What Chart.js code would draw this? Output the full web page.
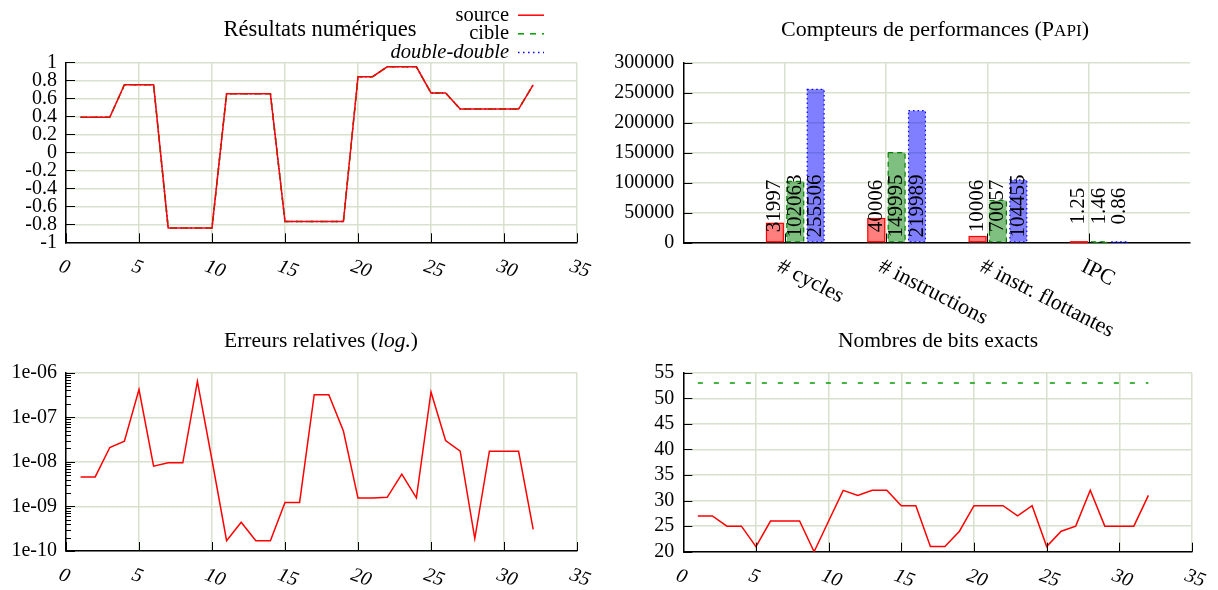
<!DOCTYPE html>
<html lang="fr">
<head>
<meta charset="utf-8">
<title>Évaluation de la compilation double-double</title>
<script src="https://cdn.jsdelivr.net/npm/chart.js@4.4.1/dist/chart.umd.min.js"></script>
<style>
html, body { margin: 0; padding: 0; background: #fff; }
#page { position: relative; width: 1218px; height: 590px; overflow: hidden; background: #fff; }
#page canvas { position: absolute; left: 0; top: 0; }
</style>
</head>
<body>
<div id="page">
  <canvas id="num" width="1218" height="590"></canvas>
  <canvas id="papi" width="1218" height="590"></canvas>
  <canvas id="err" width="1218" height="590"></canvas>
  <canvas id="bits" width="1218" height="590"></canvas>
</div>
<script>
// ---------- data ----------
const runs = [1, 2, 3, 4, 5, 6, 7, 8, 9, 10, 11, 12, 13, 14, 15, 16,
              17, 18, 19, 20, 21, 22, 23, 24, 25, 26, 27, 28, 29, 30, 31, 32];

// numerical results of each version (they coincide at this scale)
const resSource = [0.39, 0.39, 0.39, 0.75, 0.75, 0.75, -0.84, -0.84, -0.84, -0.84, 0.65, 0.65, 0.65, 0.65, -0.77, -0.77,
                   -0.77, -0.77, -0.77, 0.84, 0.84, 0.95, 0.95, 0.95, 0.66, 0.66, 0.48, 0.48, 0.48, 0.48, 0.48, 0.75];
const resCible  = [0.39, 0.39, 0.39, 0.75, 0.75, 0.75, -0.84, -0.84, -0.84, -0.84, 0.65, 0.65, 0.65, 0.65, -0.77, -0.77,
                   -0.77, -0.77, -0.77, 0.84, 0.84, 0.95, 0.95, 0.95, 0.66, 0.66, 0.48, 0.48, 0.48, 0.48, 0.48, 0.75];
const resDD     = [0.39, 0.39, 0.39, 0.75, 0.75, 0.75, -0.84, -0.84, -0.84, -0.84, 0.65, 0.65, 0.65, 0.65, -0.77, -0.77,
                   -0.77, -0.77, -0.77, 0.84, 0.84, 0.95, 0.95, 0.95, 0.66, 0.66, 0.48, 0.48, 0.48, 0.48, 0.48, 0.75];

// relative error of the source version
const relErr = [4.6e-9, 4.6e-9, 2.1e-8, 2.9e-8, 4.2e-7, 8.0e-9, 9.5e-9, 9.5e-9, 6.4e-7, 1.1e-8, 1.7e-10, 4.4e-10,
                1.7e-10, 1.7e-10, 1.23e-9, 1.23e-9, 3.2e-7, 3.2e-7, 4.9e-8, 1.54e-9, 1.54e-9, 1.6e-9, 5.3e-9, 1.55e-9,
                3.7e-7, 3.0e-8, 1.73e-8, 1.9e-10, 1.73e-8, 1.73e-8, 1.73e-8, 3.05e-10];

// exact bits: source version, and the double precision target
const bitsSource = [27, 27, 25, 25, 21, 26, 26, 26, 20, 26, 32, 31, 32, 32, 29, 29,
                    21, 21, 24, 29, 29, 29, 27, 29, 21, 24, 25, 32, 25, 25, 25, 31];
const bitsCible  = [53, 53, 53, 53, 53, 53, 53, 53, 53, 53, 53, 53, 53, 53, 53, 53,
                    53, 53, 53, 53, 53, 53, 53, 53, 53, 53, 53, 53, 53, 53, 53, 53];

// PAPI counters
const counters   = ['# cycles', '# instructions', '# instr. flottantes', 'IPC'];
const papiSource = [31997, 40006, 10006, 1.25];
const papiCible  = [102063, 149995, 70057, 1.46];
const papiDD     = [255506, 219989, 104455, 0.86];

// axis ticks
const runTicks       = [0, 5, 10, 15, 20, 25, 30, 35];
const runTickLabels  = ['0', '5', '10', '15', '20', '25', '30', '35'];
const resTicks       = [-1, -0.8, -0.6, -0.4, -0.2, 0, 0.2, 0.4, 0.6, 0.8, 1];
const resTickLabels  = ['-1', '-0.8', '-0.6', '-0.4', '-0.2', '0', '0.2', '0.4', '0.6', '0.8', '1'];
const papiTicks      = [0, 50000, 100000, 150000, 200000, 250000, 300000];
const papiTickLabels = ['0', '50000', '100000', '150000', '200000', '250000', '300000'];
const counterTicks   = [1, 2, 3, 4];
const errTicks       = [1e-10, 1e-9, 1e-8, 1e-7, 1e-6];
const errTickLabels  = ['1e-10', '1e-09', '1e-08', '1e-07', '1e-06'];
const bitsTicks      = [20, 25, 30, 35, 40, 45, 50, 55];
const bitsTickLabels = ['20', '25', '30', '35', '40', '45', '50', '55'];

// ---------- look ----------
const SERIF = '"Liberation Serif", "DejaVu Serif", serif';
const GRID = '#d8e1cd';
const font = (size, style) => `${style || ''} ${size}px ${SERIF}`;
const W = 1218, H = 590;
const TICK = 20, TITLE = 21.5, LABEL = 21;

Chart.defaults.font.family = SERIF;
Chart.defaults.font.size = TICK;
Chart.defaults.color = '#000';

function pts(ys) { return runs.map((x, i) => ({ x, y: ys[i] })); }

function drawRuns(ctx, parts, cx, baseline) {
  let total = 0;
  parts.forEach(p => { ctx.font = p.font; p.w = ctx.measureText(p.text).width; total += p.w; });
  let x = cx - total / 2;
  ctx.textAlign = 'left';
  ctx.textBaseline = 'alphabetic';
  parts.forEach(p => { ctx.font = p.font; ctx.fillText(p.text, x, baseline); x += p.w; });
}

// inward tick marks, slanted x labels and title, gnuplot style
function frame(cfg) {
  return {
    id: 'frame',
    afterDraw(chart) {
      const ctx = chart.ctx, a = chart.chartArea;
      const xs = chart.scales.x, ys = chart.scales.y;
      ctx.save();
      ctx.strokeStyle = '#000';
      ctx.lineWidth = 1;
      ctx.beginPath();
      xs.ticks.forEach(t => {
        const px = Math.round(xs.getPixelForValue(t.value)) + 0.5;
        ctx.moveTo(px, a.bottom); ctx.lineTo(px, a.bottom - 9);
      });
      ys.ticks.forEach(t => {
        const py = Math.round(ys.getPixelForValue(t.value)) + 0.5;
        ctx.moveTo(a.left, py); ctx.lineTo(a.left + 9, py);
      });
      (cfg.minor || []).forEach(v => {
        const py = Math.round(ys.getPixelForValue(v)) + 0.5;
        ctx.moveTo(a.left, py); ctx.lineTo(a.left + 5, py);
      });
      ctx.stroke();

      ctx.fillStyle = '#000';
      ctx.font = cfg.labelFont;
      ctx.textAlign = 'left';
      ctx.textBaseline = 'top';
      xs.ticks.forEach((t, i) => {
        const px = xs.getPixelForValue(t.value);
        ctx.save();
        ctx.translate(px + cfg.dx, a.bottom + cfg.dy);
        ctx.rotate(cfg.angle * Math.PI / 180);
        ctx.fillText(cfg.labels[i], 0, 0);
        ctx.restore();
      });

      drawRuns(ctx, cfg.title, cfg.titleX, cfg.titleY);
      if (cfg.legend) cfg.legend(ctx);
      ctx.restore();
    }
  };
}

function axes(o) {
  return {
    x: {
      type: 'linear', min: o.xMin, max: o.xMax, offset: false,
      afterBuildTicks: s => { s.ticks = o.xTicks.map(v => ({ value: v })); },
      ticks: { display: false },
      grid: { color: GRID, lineWidth: 1.5, drawTicks: false, offset: false },
      border: { color: '#000', width: 1.5 },
      afterFit: s => { s.height = 0; }
    },
    y: {
      type: o.yType || 'linear', min: o.yMin, max: o.yMax,
      afterBuildTicks: s => { s.ticks = o.yTicks.map(v => ({ value: v })); },
      ticks: { color: '#000', font: { family: SERIF, size: TICK }, padding: 9, autoSkip: false,
               callback: (v, i) => o.yLabels[i] },
      grid: { color: GRID, lineWidth: 1.5, drawTicks: false },
      border: { color: '#000', width: 1.5 },
      afterFit: s => { s.width = o.yWidth; }
    }
  };
}

const baseOptions = (padding, scales) => ({
  responsive: false,
  animation: false,
  events: [],
  layout: { padding },
  plugins: { legend: { display: false }, tooltip: { enabled: false } },
  scales
});

// ---------- Résultats numériques ----------
const legendNum = ctx => {
  const items = [
    { text: 'source', style: '', color: '#ff0000', dash: [], y: 20.7 },
    { text: 'cible', style: '', color: '#00a000', dash: [6, 6], y: 39.3 },
    { text: 'double-double', style: 'italic', color: '#0000ff', dash: [1.5, 3.5], y: 58 }
  ];
  items.forEach(it => {
    ctx.font = font(LABEL - 0.5, it.style);
    ctx.textAlign = 'right';
    ctx.textBaseline = 'alphabetic';
    ctx.fillStyle = '#000';
    ctx.fillText(it.text, 509, it.y);
    ctx.save();
    ctx.strokeStyle = it.color;
    ctx.lineWidth = 1.5;
    ctx.setLineDash(it.dash);
    ctx.beginPath();
    ctx.moveTo(518, it.y - 5.5);
    ctx.lineTo(544, it.y - 5.5);
    ctx.stroke();
    ctx.restore();
  });
};

new Chart(document.getElementById('num'), {
  type: 'line',
  data: {
    datasets: [
      { label: 'source', data: pts(resSource), borderColor: '#ff0000', borderWidth: 1.5, pointRadius: 0, tension: 0 },
      { label: 'cible', data: pts(resCible), borderColor: '#00a000', borderWidth: 1.5, borderDash: [6, 6], pointRadius: 0, tension: 0 },
      { label: 'double-double', data: pts(resDD), borderColor: '#0000ff', borderWidth: 1.5, borderDash: [1.5, 3.5], pointRadius: 0, tension: 0 }
    ]
  },
  options: baseOptions({ left: 0, top: 62.3, right: W - 577, bottom: H - 242.3 },
    axes({ xMin: 0, xMax: 35, xTicks: runTicks, yMin: -1, yMax: 1, yTicks: resTicks, yLabels: resTickLabels, yWidth: 66 })),
  plugins: [frame({
    labels: runTickLabels, labelFont: font(TICK, 'italic'), angle: 20, dx: -3, dy: 14,
    title: [{ text: 'Résultats numériques', font: font(22.5) }], titleX: 320, titleY: 36,
    legend: legendNum
  })]
});

// ---------- Compteurs de performances (PAPI) ----------
const barEdges = {
  id: 'barEdges',
  afterDatasetsDraw(chart) {
    const ctx = chart.ctx, a = chart.chartArea;
    chart.data.datasets.forEach((ds, di) => {
      const meta = chart.getDatasetMeta(di);
      meta.data.forEach((bar, i) => {
        const { x, y, base, width } = bar.getProps(['x', 'y', 'base', 'width'], true);
        ctx.save();
        ctx.strokeStyle = ds.edgeColor;
        ctx.lineWidth = 1.2;
        ctx.setLineDash(ds.edgeDash);
        ctx.strokeRect(x - width / 2, y, width, base - y);
        ctx.restore();

        ctx.save();
        ctx.translate(x, a.bottom - 36.5);
        ctx.rotate(-Math.PI / 2);
        ctx.font = font(LABEL);
        ctx.fillStyle = '#000';
        ctx.textAlign = 'center';
        ctx.textBaseline = 'middle';
        ctx.fillText(String(ds.data[i].y), 0, 0);
        ctx.restore();
      });
    });
  }
};

const papiScales = axes({ xMin: 0, xMax: 5, xTicks: counterTicks, yMin: 0, yMax: 300000,
                          yTicks: papiTicks, yLabels: papiTickLabels, yWidth: 83.3 });
// the bar clusters sit a little right of each counter's grid line
papiScales.xb = {
  type: 'linear', display: false, min: -0.105, max: 4.895, offset: false,
  grid: { offset: false },
  afterBuildTicks: s => { s.ticks = counterTicks.map(v => ({ value: v })); }
};

const counterPts = vals => counterTicks.map((x, i) => ({ x, y: vals[i] }));

new Chart(document.getElementById('papi'), {
  type: 'bar',
  data: {
    datasets: [
      { label: 'source', data: counterPts(papiSource), xAxisID: 'xb', yAxisID: 'y',
        backgroundColor: 'rgba(255,0,0,0.5)', borderWidth: 0, edgeColor: '#ff0000', edgeDash: [],
        categoryPercentage: 0.603, barPercentage: 0.83 },
      { label: 'cible', data: counterPts(papiCible), xAxisID: 'xb', yAxisID: 'y',
        backgroundColor: 'rgba(0,128,0,0.5)', borderWidth: 0, edgeColor: '#008000', edgeDash: [5, 4],
        categoryPercentage: 0.603, barPercentage: 0.83 },
      { label: 'double-double', data: counterPts(papiDD), xAxisID: 'xb', yAxisID: 'y',
        backgroundColor: 'rgba(0,0,255,0.5)', borderWidth: 0, edgeColor: '#0000ff', edgeDash: [1.5, 3],
        categoryPercentage: 0.603, barPercentage: 0.83 }
    ]
  },
  options: baseOptions({ left: 600, top: 62.7, right: W - 1190, bottom: H - 242.5 }, papiScales),
  plugins: [barEdges, frame({
    labels: counters, labelFont: font(22), angle: 27, dx: -1, dy: 13,
    title: [
      { text: 'Compteurs de performances (P', font: font(22) },
      { text: 'API', font: font(22 * 0.78) },
      { text: ')', font: font(22) }
    ], titleX: 935, titleY: 36
  })]
});

// ---------- Erreurs relatives (log.) ----------
const errMinor = [];
[1e-10, 1e-9, 1e-8, 1e-7].forEach(d => { for (let k = 2; k <= 9; k++) errMinor.push(k * d); });

new Chart(document.getElementById('err'), {
  type: 'line',
  data: {
    datasets: [
      { label: 'source', data: pts(relErr), borderColor: '#ff0000', borderWidth: 1.5, pointRadius: 0, tension: 0 }
    ]
  },
  options: baseOptions({ left: 0, top: 372.7, right: W - 577, bottom: H - 551 },
    axes({ xMin: 0, xMax: 35, xTicks: runTicks, yType: 'logarithmic', yMin: 1e-10, yMax: 1e-6,
           yTicks: errTicks, yLabels: errTickLabels, yWidth: 66 })),
  plugins: [frame({
    labels: runTickLabels, labelFont: font(TICK, 'italic'), angle: 20, dx: -3, dy: 14, minor: errMinor,
    title: [
      { text: 'Erreurs relatives (', font: font(TITLE) },
      { text: 'log.', font: font(TITLE, 'italic') },
      { text: ')', font: font(TITLE) }
    ], titleX: 321, titleY: 347
  })]
});

// ---------- Nombres de bits exacts ----------
new Chart(document.getElementById('bits'), {
  type: 'line',
  data: {
    datasets: [
      { label: 'source', data: pts(bitsSource), borderColor: '#ff0000', borderWidth: 1.5, pointRadius: 0, tension: 0 },
      { label: 'cible', data: pts(bitsCible), borderColor: '#00a000', borderWidth: 1.5, borderDash: [5, 11], pointRadius: 0, tension: 0 }
    ]
  },
  options: baseOptions({ left: 600, top: 372.7, right: W - 1192, bottom: H - 551.7 },
    axes({ xMin: 0, xMax: 35, xTicks: runTicks, yMin: 20, yMax: 55, yTicks: bitsTicks, yLabels: bitsTickLabels, yWidth: 83.3 })),
  plugins: [frame({
    labels: runTickLabels, labelFont: font(TICK, 'italic'), angle: 20, dx: -3, dy: 14,
    title: [{ text: 'Nombres de bits exacts', font: font(TITLE) }], titleX: 938, titleY: 347
  })]
});
</script>
</body>
</html>
